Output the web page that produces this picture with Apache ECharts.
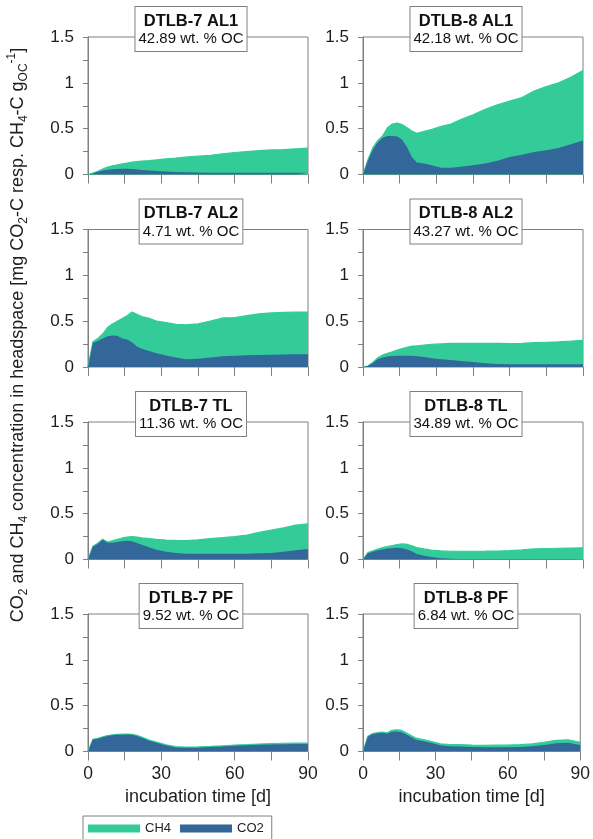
<!DOCTYPE html>
<html>
<head>
<meta charset="utf-8">
<script src="https://cdn.jsdelivr.net/npm/echarts@6/dist/echarts.min.js"></script>
<style>
html,body{margin:0;padding:0;background:#fff;}
#chart{width:593px;height:839px;}
</style>
</head>
<body>
<div id="chart"></div>
<script>
// incubation days (shared by all panels)
const days = [0,2,4,6,8,10,12,14,16,18,20,22,25,28,32,36,40,45,50,55,60,65,70,75,80,85,90];

// DTLB-7 AL1
const co2_7AL1 = [0,0.012,0.03,0.044,0.052,0.057,0.06,0.062,0.063,0.06,0.055,0.05,0.044,0.038,0.032,0.028,0.025,0.022,0.02,0.02,0.02,0.02,0.02,0.018,0.018,0.018,0.018];
const ch4_7AL1 = [0,0.003,0.005,0.016,0.028,0.038,0.045,0.053,0.062,0.075,0.085,0.095,0.108,0.122,0.14,0.152,0.165,0.178,0.19,0.205,0.22,0.23,0.24,0.25,0.254,0.262,0.269];
// DTLB-8 AL1
const co2_8AL1 = [0,0.15,0.27,0.35,0.40,0.42,0.42,0.415,0.38,0.30,0.19,0.13,0.12,0.10,0.075,0.075,0.085,0.10,0.12,0.15,0.19,0.215,0.245,0.265,0.29,0.33,0.37];
const ch4_8AL1 = [0,0.01,0.02,0.02,0.02,0.09,0.13,0.145,0.165,0.21,0.285,0.32,0.35,0.39,0.45,0.475,0.515,0.55,0.59,0.61,0.61,0.625,0.665,0.695,0.71,0.73,0.765];
// DTLB-7 AL2
const co2_7AL2 = [0,0.262,0.285,0.31,0.335,0.345,0.34,0.31,0.30,0.27,0.225,0.20,0.175,0.15,0.125,0.105,0.085,0.09,0.105,0.118,0.122,0.128,0.132,0.135,0.137,0.138,0.14];
const ch4_7AL2 = [0,0.013,0.025,0.05,0.095,0.125,0.16,0.22,0.26,0.33,0.35,0.35,0.355,0.35,0.36,0.36,0.375,0.38,0.395,0.417,0.418,0.432,0.448,0.455,0.458,0.462,0.46];
// DTLB-8 AL2
const co2_8AL2 = [0,0.01,0.045,0.085,0.105,0.115,0.12,0.123,0.124,0.124,0.122,0.118,0.108,0.095,0.085,0.076,0.066,0.055,0.04,0.033,0.03,0.03,0.03,0.03,0.03,0.03,0.03];
const ch4_8AL2 = [0,0,0.005,0.015,0.025,0.035,0.045,0.062,0.076,0.091,0.106,0.114,0.132,0.151,0.167,0.182,0.192,0.202,0.217,0.224,0.225,0.228,0.235,0.24,0.245,0.252,0.26];
// DTLB-7 TL
const co2_7TL = [0,0.14,0.17,0.215,0.182,0.182,0.19,0.198,0.205,0.20,0.18,0.16,0.135,0.106,0.085,0.07,0.062,0.062,0.062,0.062,0.062,0.064,0.067,0.072,0.085,0.10,0.115];
const ch4_7TL = [0,0.005,0.008,0.007,0.008,0.023,0.03,0.037,0.04,0.05,0.065,0.075,0.093,0.114,0.127,0.138,0.145,0.153,0.166,0.176,0.188,0.201,0.228,0.248,0.26,0.275,0.275];
// DTLB-8 TL
const co2_8TL = [0,0.068,0.085,0.10,0.11,0.12,0.124,0.127,0.124,0.11,0.09,0.06,0.04,0.028,0.015,0.007,0.005,0.005,0.005,0.005,0.005,0.005,0.005,0.005,0.005,0.005,0.005];
const ch4_8TL = [0,0.007,0.01,0.015,0.02,0.022,0.028,0.036,0.046,0.055,0.06,0.07,0.075,0.074,0.079,0.083,0.085,0.085,0.086,0.088,0.091,0.10,0.11,0.115,0.118,0.12,0.122];
// DTLB-7 PF
const co2_7PF = [0,0.13,0.14,0.155,0.17,0.178,0.182,0.184,0.185,0.182,0.17,0.15,0.118,0.095,0.065,0.045,0.04,0.042,0.048,0.055,0.062,0.067,0.073,0.077,0.08,0.082,0.083];
const ch4_7PF = [0,0.003,0.003,0.004,0.004,0.004,0.005,0.005,0.005,0.006,0.006,0.007,0.007,0.008,0.008,0.008,0.008,0.008,0.008,0.008,0.009,0.009,0.009,0.01,0.01,0.01,0.01];
// DTLB-8 PF
const co2_8PF = [0,0.16,0.19,0.198,0.205,0.195,0.215,0.218,0.21,0.185,0.155,0.127,0.112,0.095,0.068,0.058,0.054,0.05,0.047,0.047,0.047,0.05,0.058,0.072,0.09,0.095,0.072];
const ch4_8PF = [0,0.005,0.006,0.007,0.008,0.008,0.017,0.018,0.02,0.017,0.018,0.018,0.017,0.016,0.016,0.018,0.02,0.02,0.02,0.022,0.024,0.025,0.025,0.028,0.032,0.032,0.028];

const panelTitles = ['DTLB-7 AL1','DTLB-8 AL1','DTLB-7 AL2','DTLB-8 AL2','DTLB-7 TL','DTLB-8 TL','DTLB-7 PF','DTLB-8 PF'];
const panelOC = ['42.89','42.18','4.71','43.27','11.36','34.89','9.52','6.84'];
const co2Sets = [co2_7AL1,co2_8AL1,co2_7AL2,co2_8AL2,co2_7TL,co2_8TL,co2_7PF,co2_8PF];
const ch4Sets = [ch4_7AL1,ch4_8AL1,ch4_7AL2,ch4_8AL2,ch4_7TL,ch4_8TL,ch4_7PF,ch4_8PF];
const xTicks = [0,30,60,90];
const yTicks = [0,0.5,1,1.5];
const seriesNames = ['CH4','CO2'];

const GREEN = '#33cc99';
const BLUE = '#336699';
const FRAME = '#808080';
const TXT = '#1e1e1e';
const FONT = 'Liberation Sans, Arial, sans-serif';

const colLeft = [88, 363];
const rowTop = [37, 229.5, 422, 614];
const gridW = 220, gridH = 137.5;

const grids = [], xAxes = [], yAxes = [], series = [], graphics = [];
for (let i = 0; i < 8; i++) {
  const r = Math.floor(i / 2), c = i % 2;
  const left = colLeft[c], top = rowTop[r];
  const co2 = co2Sets[i], ch4 = ch4Sets[i];
  grids.push({left: left, top: top, width: gridW, height: gridH, show: true,
    borderColor: FRAME, borderWidth: 1, backgroundColor: 'transparent'});
  xAxes.push({
    gridIndex: i, type: 'value', min: 0, max: 90, interval: 15,
    axisLine: {show: false},
    axisTick: {show: true, length: 9, inside: false, lineStyle: {color: FRAME, width: 1}},
    splitLine: {show: false},
    axisLabel: {show: r === 3, showMinLabel: true, showMaxLabel: true,
      formatter: v => xTicks.indexOf(v) >= 0 ? String(v) : '',
      fontSize: 17.5, color: TXT, margin: 14, fontFamily: FONT},
    name: r === 3 ? 'incubation time [d]' : '',
    nameLocation: 'middle', nameGap: 37,
    nameTextStyle: {fontSize: 18, color: TXT, fontFamily: FONT}
  });
  yAxes.push({
    gridIndex: i, type: 'value', min: 0, max: 1.5, interval: 0.25,
    axisLine: {show: true, lineStyle: {color: FRAME, width: 1}},
    axisTick: {show: true, length: 5, inside: false, lineStyle: {color: FRAME, width: 1}},
    splitLine: {show: false},
    axisLabel: {showMinLabel: true, showMaxLabel: true,
      formatter: v => yTicks.some(t => Math.abs(t - v) < 1e-6) ? String(v) : '',
      fontSize: 17, color: TXT, margin: 14, fontFamily: FONT}
  });
  // CH4 is stacked on top of CO2: its upper edge is CO2 + CH4, drawn behind the CO2 area
  series.push({
    type: 'line', name: 'CH4', xAxisIndex: i, yAxisIndex: i,
    data: days.map((d, k) => [d, co2[k] + ch4[k]]),
    symbol: 'none', showSymbol: false, color: GREEN,
    lineStyle: {width: 1.2, color: GREEN}, areaStyle: {color: GREEN, opacity: 1, origin: 'start'}, z: 2
  });
  series.push({
    type: 'line', name: 'CO2', xAxisIndex: i, yAxisIndex: i,
    data: days.map((d, k) => [d, co2[k]]),
    symbol: 'none', showSymbol: false, color: BLUE,
    lineStyle: {width: 0, color: BLUE}, areaStyle: {color: BLUE, opacity: 1, origin: 'start'}, z: 3
  });
  graphics.push({
    type: 'text', x: left + 103, y: top - 30, z: 100,
    style: {
      text: '{b|' + panelTitles[i] + '}\n{s|' + panelOC[i] + ' wt. % OC}',
      rich: {
        b: {fontSize: 16.5, fontWeight: 'bold', lineHeight: 18, fill: '#111', fontFamily: FONT},
        s: {fontSize: 15, lineHeight: 18, fill: '#111', fontFamily: FONT}
      },
      align: 'center', verticalAlign: 'top',
      backgroundColor: '#fff', borderColor: FRAME, borderWidth: 1,
      padding: [5, 3, 3, 3]
    }
  });
}

graphics.push({
  type: 'text', x: 18, y: 335, rotation: Math.PI / 2, z: 100,
  style: {
    text: '{n|CO}{sub|2}{n| and CH}{sub|4}{n| concentration in headspace [mg CO}{sub|2}{n|-C resp. CH}{sub|4}{n|-C g}{sub|OC}{sup|-1}{n|]}',
    rich: {
      n: {fontSize: 18, lineHeight: 24, fill: TXT, fontFamily: FONT},
      sub: {fontSize: 12, lineHeight: 15, verticalAlign: 'bottom', fill: TXT, fontFamily: FONT},
      sup: {fontSize: 12, lineHeight: 15, verticalAlign: 'top', fill: TXT, fontFamily: FONT}
    },
    align: 'center', verticalAlign: 'middle'
  }
});

const chart = echarts.init(document.getElementById('chart'), null, {renderer: 'canvas'});
chart.setOption({
  animation: false,
  backgroundColor: '#fff',
  textStyle: {fontFamily: FONT},
  grid: grids,
  xAxis: xAxes,
  yAxis: yAxes,
  legend: {
    data: seriesNames, left: 83, top: 816, orient: 'horizontal',
    icon: 'rect', itemWidth: 52, itemHeight: 8, itemGap: 9,
    borderColor: FRAME, borderWidth: 1, padding: [6, 8, 20, 5],
    textStyle: {fontSize: 13, color: TXT, fontFamily: FONT, padding: [0, 0, 4, 0]}
  },
  series: series,
  graphic: graphics
});
</script>
</body>
</html>
